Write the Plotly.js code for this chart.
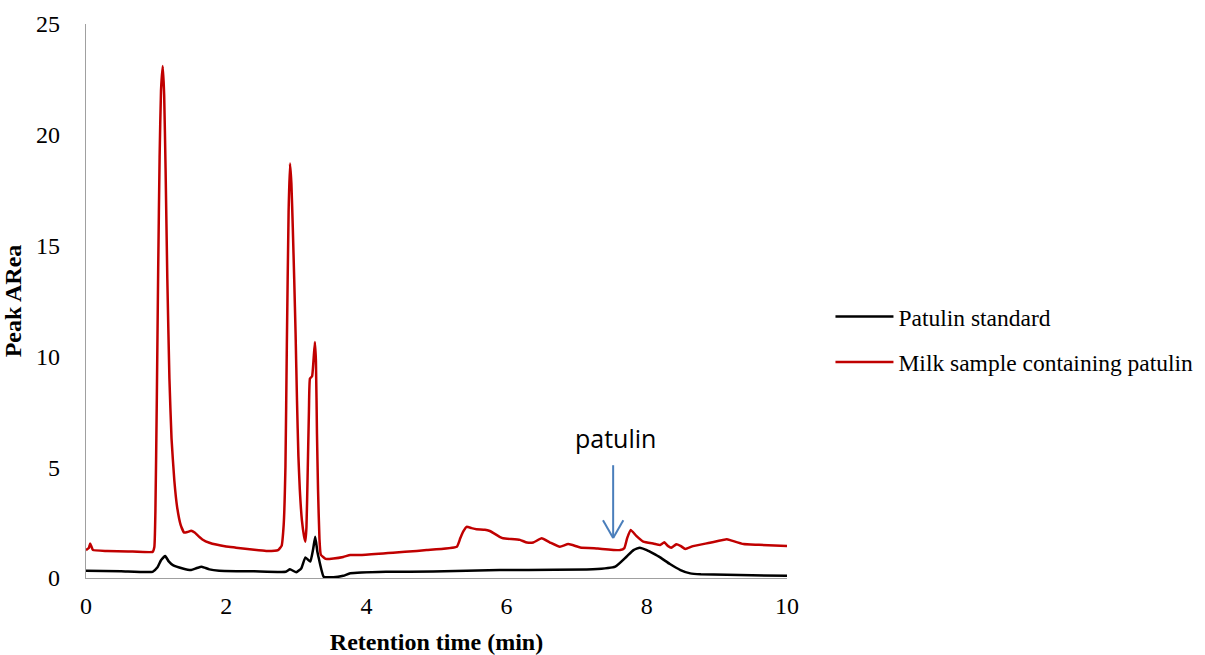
<!DOCTYPE html>
<html>
<head>
<meta charset="utf-8">
<script src="https://cdn.plot.ly/plotly-3.0.1.min.js"></script>
<style>html,body{margin:0;padding:0;background:#fff;}#chart{width:1205px;height:655px;}</style>
</head>
<body>
<div id="chart"></div>
<script>
// Patulin standard (black)
const stdTime = [0,0.5,0.95,1.02,1.07,1.13,1.18,1.24,1.38,1.50,1.58,1.65,1.76,1.90,2.4,2.85,2.91,3.00,3.07,3.13,3.20,3.24,3.27,3.30,3.32,3.36,3.39,3.53,3.67,3.77,4.28,4.95,5.90,7.23,7.55,7.71,7.81,7.90,8.00,8.09,8.19,8.33,8.48,8.62,8.77,9.5,10.0];
const stdArea = [0.33,0.31,0.28,0.48,0.8,0.99,0.75,0.58,0.43,0.36,0.45,0.51,0.39,0.33,0.30,0.28,0.39,0.26,0.43,0.93,0.74,1.3,1.86,1.2,0.9,0.35,0.06,0.03,0.10,0.21,0.28,0.29,0.36,0.39,0.51,0.96,1.26,1.37,1.26,1.11,0.93,0.63,0.36,0.21,0.17,0.12,0.10];

// Milk sample containing patulin (red)
const milkTime = [0.00,0.04,0.06,0.08,0.10,0.3,0.6,0.95,0.975,0.99,1.01,1.03,1.05,1.07,1.095,1.115,1.135,1.16,1.19,1.22,1.26,1.30,1.35,1.40,1.45,1.50,1.55,1.60,1.66,1.76,2.00,2.14,2.40,2.57,2.74,2.79,2.82,2.845,2.865,2.89,2.91,2.93,2.95,2.97,2.99,3.01,3.03,3.05,3.08,3.11,3.13,3.145,3.16,3.18,3.195,3.225,3.245,3.265,3.28,3.295,3.31,3.33,3.35,3.42,3.53,3.67,3.77,3.91,4.24,4.38,4.72,4.86,5.29,5.34,5.38,5.43,5.50,5.57,5.69,5.76,5.90,5.95,6.19,6.29,6.38,6.50,6.62,6.76,6.88,7.05,7.30,7.62,7.68,7.72,7.77,7.85,7.95,8.10,8.19,8.25,8.30,8.35,8.42,8.48,8.55,8.66,8.90,9.14,9.20,9.38,9.60,10.0];
const milkArea = [1.26,1.35,1.56,1.40,1.26,1.22,1.20,1.18,1.4,3.0,8.0,14.0,19.0,22.0,23.1,21.8,18.5,13.5,9.0,6.3,4.4,3.2,2.4,2.05,2.08,2.13,2.05,1.9,1.74,1.59,1.42,1.37,1.27,1.22,1.26,1.45,2.4,5.0,10.5,16.5,18.7,17.8,15.8,13.5,11.0,8.0,5.5,4.0,2.6,1.9,1.64,2.3,4.4,7.5,9.0,9.1,9.8,10.65,9.8,6.5,4.0,1.8,1.05,0.86,0.88,0.95,1.04,1.04,1.11,1.14,1.22,1.26,1.41,1.8,2.09,2.31,2.25,2.2,2.18,2.12,1.86,1.79,1.72,1.6,1.6,1.79,1.6,1.41,1.53,1.38,1.33,1.26,1.35,1.8,2.17,1.9,1.64,1.55,1.49,1.61,1.45,1.37,1.52,1.45,1.31,1.44,1.59,1.75,1.70,1.53,1.50,1.44];

const seriesNames = ["Patulin standard", "Milk sample containing patulin"];
const xTicks = [0,2,4,6,8,10];
const yTicks = [0,5,10,15,20,25];

// patulin marker (arrow + label)
const arrowX = 7.52, arrowTop = 5.09, arrowTip = 1.80;
const labelText = "patulin";

const serif = "Liberation Serif, Times New Roman, serif";

const traces = [
  {x: stdTime, y: stdArea, type: "scatter", mode: "lines", name: seriesNames[0], legendgroup: "a",
   line: {color: "#000000", width: 2.5, shape: "spline", smoothing: 0.4}},
  {x: milkTime, y: milkArea, type: "scatter", mode: "lines", name: seriesNames[1], legendgroup: "b",
   line: {color: "#C00000", width: 2.5, shape: "spline", smoothing: 0.4}}
];

const arrowColor = "#4A7EBB";
const layout = {
  width: 1205, height: 655,
  margin: {l: 86, r: 418, t: 24, b: 77, pad: 0, autoexpand: false},
  paper_bgcolor: "#ffffff", plot_bgcolor: "#ffffff",
  font: {family: serif, size: 24, color: "#000"},
  showlegend: true,
  legend: {x: 1.062, xanchor: "left", y: 0.43, yanchor: "middle",
           font: {family: serif, size: 23.5, color: "#000"}, tracegroupgap: 12,
           bgcolor: "rgba(0,0,0,0)", itemwidth: 58},
  xaxis: {range: [0, 10], tickvals: xTicks, ticktext: xTicks.map(String), showgrid: false, zeroline: false,
          showline: true, linecolor: "#a0a0a0", linewidth: 1.3, ticks: "", ticklabelstandoff: 6,
          tickfont: {family: serif, size: 24}, automargin: false,
          title: {text: "<b>Retention time (min)</b>", font: {family: serif, size: 24}, standoff: 16}},
  yaxis: {range: [0, 25], tickvals: yTicks, ticktext: yTicks.map(String), showgrid: false, zeroline: false,
          showline: true, linecolor: "#a0a0a0", linewidth: 1.3, ticks: "", ticklabelstandoff: 20,
          tickfont: {family: serif, size: 24}, automargin: false,
          title: {text: "<b>Peak ARea</b>", font: {family: serif, size: 24}, standoff: 10}},
  shapes: [
    {type: "line", xref: "x", yref: "y", x0: arrowX, x1: arrowX, y0: arrowTop, y1: arrowTip,
     line: {color: arrowColor, width: 2}},
    {type: "line", xref: "x", yref: "y", x0: arrowX - 0.145, x1: arrowX, y0: arrowTip + 0.81, y1: arrowTip,
     line: {color: arrowColor, width: 2}},
    {type: "line", xref: "x", yref: "y", x0: arrowX + 0.145, x1: arrowX, y0: arrowTip + 0.81, y1: arrowTip,
     line: {color: arrowColor, width: 2}}
  ],
  annotations: [
    {x: arrowX + 0.04, y: arrowTop + 1.25, xref: "x", yref: "y", text: labelText, showarrow: false,
     font: {family: "Open Sans, Noto Sans, sans-serif", size: 25, color: "#000"}}
  ]
};

Plotly.newPlot("chart", traces, layout, {displayModeBar: false, staticPlot: true});
</script>
</body>
</html>
